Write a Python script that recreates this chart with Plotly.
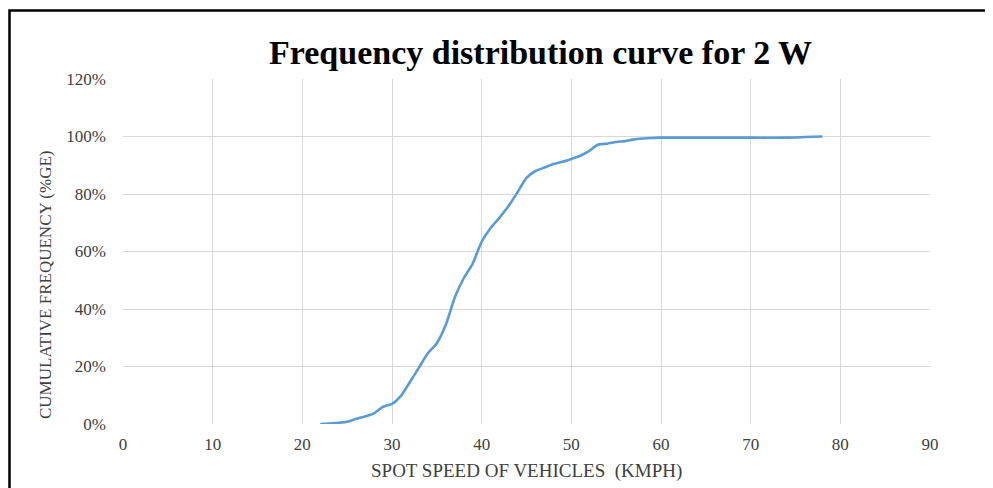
import plotly.graph_objects as go

speed = [22, 23, 24, 25, 26, 27, 28, 29, 30, 31, 32, 33, 34, 35, 36, 37, 38, 39, 40, 41, 42, 43, 44, 45, 46, 47, 48, 49, 50, 51, 52, 53, 54, 55, 56, 57, 58, 59, 60, 65, 70, 74, 76, 78]
cum_pct = [0.0, 0.2, 0.4, 0.8, 1.8, 2.6, 3.7, 6.0, 7.0, 9.8, 14.6, 19.6, 24.6, 28.1, 34.5, 44.0, 50.7, 55.8, 63.4, 68.2, 71.8, 75.8, 80.6, 85.6, 88.0, 89.2, 90.4, 91.2, 92.2, 93.3, 95.0, 97.2, 97.5, 98.1, 98.4, 99.0, 99.3, 99.5, 99.6, 99.6, 99.6, 99.6, 99.8, 100.0]

x_ticks = [0, 10, 20, 30, 40, 50, 60, 70, 80, 90]
y_ticks = [0, 20, 40, 60, 80, 100, 120]
y_tick_labels = [f"{v}%" for v in y_ticks]

# page offset (body margin) compensation
OX, OY = 8, 8
PAGE_W, PAGE_H = 993, 488
W, H = PAGE_W - OX, PAGE_H - OY
# target plot area in page pixels
PL, PR, PT, PB = 123, 930, 79, 424
L, T = PL - OX, PT - OY
R = W - (PR - OX)
B = H - (PB - OY)
pw, ph = PR - PL, PB - PT

def px(x_page):
    return (x_page - PL) / pw

def py(y_page):
    return (PB - y_page) / ph

serif = "Liberation Serif, Times New Roman, serif"
grey = "#404040"

fig = go.Figure()
fig.add_trace(go.Scatter(
    x=speed, y=cum_pct, mode="lines",
    line=dict(color="#5B9BD5", width=2.6, shape="spline", smoothing=0.6),
    showlegend=False, hoverinfo="skip",
))

fig.update_layout(
    width=W, height=H,
    margin=dict(l=L, r=R, t=T, b=B),
    paper_bgcolor="white", plot_bgcolor="white",
    font=dict(family=serif, color=grey),
    xaxis=dict(range=[0, 90], tickvals=x_ticks, ticktext=[str(v) for v in x_ticks],
               showgrid=True, gridcolor="#D9D9D9", gridwidth=1,
               zeroline=False, showline=False, ticks="",
               ticklabelstandoff=8,
               tickfont=dict(family=serif, size=17, color=grey)),
    yaxis=dict(range=[0, 120], tickvals=y_ticks, ticktext=y_tick_labels,
               showgrid=True, gridcolor="#D9D9D9", gridwidth=1,
               zeroline=False, showline=False, ticks="",
               ticklabelstandoff=16,
               tickfont=dict(family=serif, size=17, color=grey)),
    annotations=[
        dict(text="<b>Frequency distribution curve for 2 W</b>",
             xref="paper", yref="paper", x=px(540), y=py(52),
             xanchor="center", yanchor="middle", showarrow=False,
             font=dict(family=serif, size=34, color="#000000")),
        dict(text="SPOT SPEED OF VEHICLES  (KMPH)",
             xref="paper", yref="paper", x=px(526), y=py(471),
             xanchor="center", yanchor="middle", showarrow=False,
             font=dict(family=serif, size=19, color=grey)),
        dict(text="CUMULATIVE FREQUENCY (%GE)", textangle=-90,
             xref="paper", yref="paper", x=px(45), y=py(285),
             xanchor="center", yanchor="middle", showarrow=False,
             font=dict(family=serif, size=17, color=grey)),
    ],
    shapes=[dict(type="rect", xref="paper", yref="paper",
                 x0=px(9.5), x1=px(1010),
                 y0=py(510), y1=py(10.5),
                 line=dict(color="#000000", width=2.5), layer="above")],
)

fig.write_html("out.html")
